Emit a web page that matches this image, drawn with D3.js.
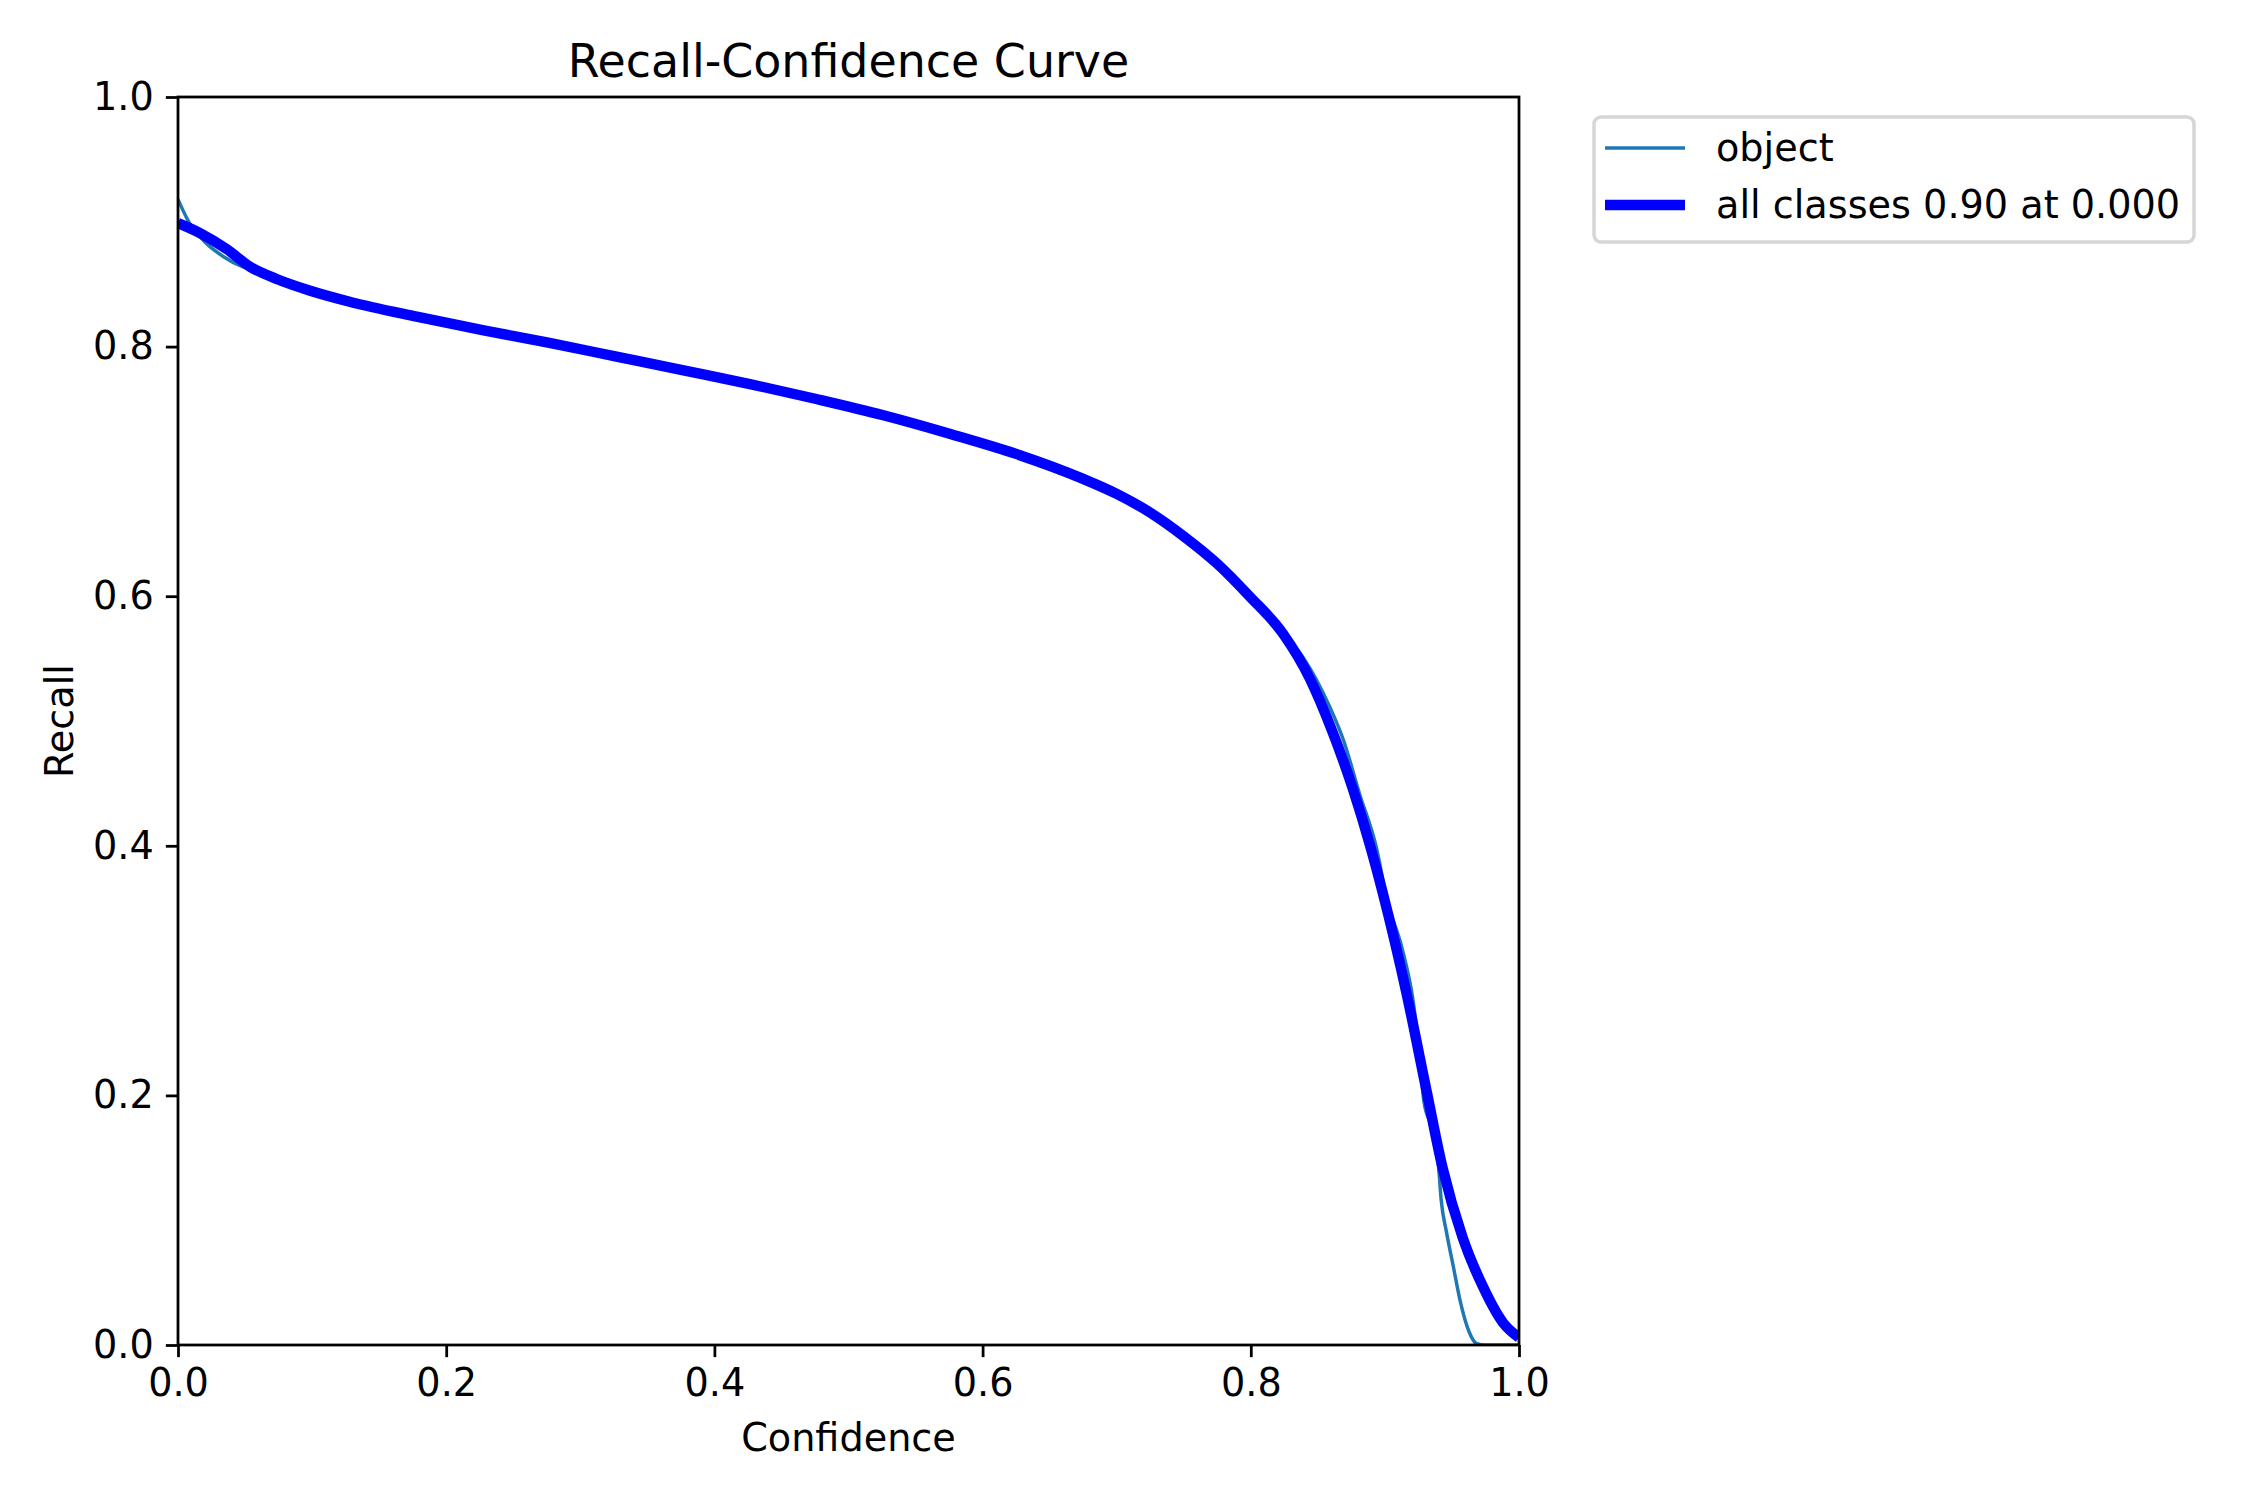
<!DOCTYPE html>
<html>
<head>
<meta charset="utf-8">
<script src="https://cdn.jsdelivr.net/npm/d3@7"></script>
<style>
  body { margin: 0; background: #fff; }
  text { font-family: "DejaVu Sans", sans-serif; fill: #000; }
</style>
</head>
<body>
<div id="chart"></div>
<script>
// recall vs confidence
var allConf   = [0, 0.0164, 0.0365, 0.0537, 0.074, 0.098, 0.128, 0.178, 0.228, 0.277, 0.327, 0.377, 0.4265, 0.476, 0.526, 0.576, 0.625, 0.675, 0.700, 0.725, 0.750, 0.775, 0.799, 0.824, 0.844, 0.861, 0.876, 0.889, 0.898, 0.9165, 0.931, 0.943, 0.958, 0.973, 0.988, 1.0];
var allRecall = [0.899, 0.891, 0.878, 0.864, 0.854, 0.845, 0.836, 0.824, 0.813, 0.803, 0.792, 0.781, 0.770, 0.758, 0.745, 0.730, 0.714, 0.694, 0.682, 0.667, 0.648, 0.626, 0.600, 0.570, 0.534, 0.491, 0.446, 0.400, 0.364, 0.280, 0.204, 0.142, 0.086, 0.047, 0.018, 0.006];

var objConf   = [0, 0.0075, 0.019, 0.034, 0.048, 0.0537, 0.074, 0.098, 0.128, 0.178, 0.228, 0.277, 0.327, 0.377, 0.4265, 0.476, 0.526, 0.576, 0.625, 0.675, 0.700, 0.725, 0.750, 0.775, 0.799, 0.829, 0.839, 0.859, 0.869, 0.881, 0.894, 0.9015, 0.913, 0.921, 0.9255, 0.929, 0.936, 0.940, 0.942, 0.946, 0.951, 0.956, 0.963, 0.9685, 0.975, 1.0];
var objRecall = [0.918, 0.901, 0.885, 0.872, 0.864, 0.862, 0.854, 0.845, 0.836, 0.824, 0.813, 0.803, 0.792, 0.781, 0.770, 0.758, 0.745, 0.730, 0.714, 0.694, 0.682, 0.667, 0.648, 0.626, 0.600, 0.565, 0.551, 0.511, 0.485, 0.442, 0.397, 0.357, 0.317, 0.276, 0.236, 0.196, 0.170, 0.143, 0.116, 0.090, 0.063, 0.036, 0.010, 0.001, 0, 0];

var tickValues = [0, 0.2, 0.4, 0.6, 0.8, 1.0];
var seriesNames = ["object", "all classes 0.90 at 0.000"];
var seriesColors = ["#1f77b4", "#0000ff"];
var seriesWidths = [3.47, 10.4];

var width = 2250, height = 1500;
var plot = {left: 178, right: 1519, top: 97, bottom: 1345};
var fs = 38.2;

var svg = d3.select("#chart").append("svg")
    .attr("width", width)
    .attr("height", height);

svg.append("rect").attr("width", width).attr("height", height).attr("fill", "#fff");

var x = d3.scaleLinear().domain([0, 1]).range([plot.left, plot.right]);
var y = d3.scaleLinear().domain([0, 1]).range([plot.bottom, plot.top]);

svg.append("clipPath").attr("id", "clip")
    .append("rect")
    .attr("x", plot.left).attr("y", plot.top)
    .attr("width", plot.right - plot.left).attr("height", plot.bottom - plot.top);

// curves
var objData = objConf.map(function (c, i) { return [c, objRecall[i]]; });
var allData = allConf.map(function (c, i) { return [c, allRecall[i]]; });

var line = d3.line()
    .x(function (d) { return x(d[0]); })
    .y(function (d) { return y(d[1]); })
    .curve(d3.curveMonotoneX);

var curves = svg.append("g").attr("clip-path", "url(#clip)");
curves.append("path")
    .attr("d", line(objData))
    .attr("fill", "none")
    .attr("stroke", seriesColors[0])
    .attr("stroke-width", seriesWidths[0])
    .attr("stroke-linejoin", "round");
curves.append("path")
    .attr("d", line(allData))
    .attr("fill", "none")
    .attr("stroke", seriesColors[1])
    .attr("stroke-width", seriesWidths[1])
    .attr("stroke-linejoin", "round");

// axes
var fmt = d3.format(".1f");
var xAxis = svg.append("g")
    .attr("transform", "translate(0," + plot.bottom + ")")
    .call(d3.axisBottom(x).tickValues(tickValues).tickFormat(fmt).tickSize(12.15).tickSizeOuter(0).tickPadding(12.15));
var yAxis = svg.append("g")
    .attr("transform", "translate(" + plot.left + ",0)")
    .call(d3.axisLeft(y).tickValues(tickValues).tickFormat(fmt).tickSize(12.15).tickSizeOuter(0).tickPadding(12.15));

[xAxis, yAxis].forEach(function (g) {
    g.select(".domain").remove();
    g.selectAll("line").attr("stroke", "#000").attr("stroke-width", 2.78);
    g.selectAll("text")
        .style("font-family", "'DejaVu Sans', sans-serif")
        .style("font-size", fs + "px")
        .attr("fill", "#000");
});

// frame
svg.append("rect")
    .attr("x", plot.left).attr("y", plot.top)
    .attr("width", plot.right - plot.left).attr("height", plot.bottom - plot.top)
    .attr("fill", "none")
    .attr("stroke", "#000")
    .attr("stroke-width", 2.78);

// labels
svg.append("text")
    .attr("x", (plot.left + plot.right) / 2).attr("y", 77)
    .attr("text-anchor", "middle")
    .style("font-size", "45.9px")
    .text("Recall-Confidence Curve");

svg.append("text")
    .attr("x", (plot.left + plot.right) / 2).attr("y", 1451)
    .attr("text-anchor", "middle")
    .style("font-size", fs + "px")
    .text("Confidence");

svg.append("text")
    .attr("transform", "translate(73," + ((plot.top + plot.bottom) / 2) + ") rotate(-90)")
    .attr("text-anchor", "middle")
    .style("font-size", fs + "px")
    .text("Recall");

// legend
var legend = svg.append("g");
legend.append("rect")
    .attr("x", 1594).attr("y", 117)
    .attr("width", 600).attr("height", 125)
    .attr("rx", 7).attr("ry", 7)
    .attr("fill", "#fff").attr("fill-opacity", 0.8)
    .attr("stroke", "#d6d6d6")
    .attr("stroke-width", 3.47);

var rows = legend.selectAll(".row")
    .data(seriesNames)
    .enter().append("g")
    .attr("class", "row")
    .attr("transform", function (d, i) { return "translate(0," + (148 + i * 57) + ")"; });

rows.append("line")
    .attr("x1", 1605).attr("x2", 1685)
    .attr("stroke", function (d, i) { return seriesColors[i]; })
    .attr("stroke-width", function (d, i) { return seriesWidths[i]; });

rows.append("text")
    .attr("x", 1716)
    .attr("dy", "0.35em")
    .style("font-size", fs + "px")
    .text(function (d) { return d; });
</script>
</body>
</html>
